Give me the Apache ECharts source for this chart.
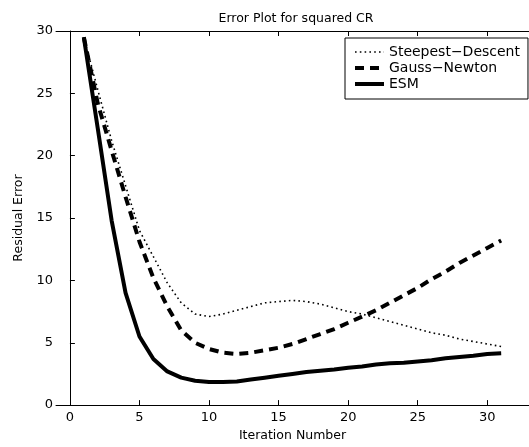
<!DOCTYPE html>
<html><head><meta charset="utf-8">
<script src="https://cdn.jsdelivr.net/npm/echarts@6/dist/echarts.min.js"></script>
<style>html,body{margin:0;padding:0;background:#fff}#c{width:529px;height:447px}</style>
</head><body><div id="c"></div>
<script>
const iterations = [1,2,3,4,5,6,7,8,9,10,11,12,13,14,15,16,17,18,19,20,21,22,23,24,25,26,27,28,29,30,31];
const steepestDescent = [29.5,25.3,21.2,17.6,14.0,11.9,9.8,8.2,7.3,7.1,7.3,7.6,7.9,8.2,8.3,8.4,8.3,8.1,7.8,7.5,7.3,7.0,6.7,6.4,6.1,5.8,5.6,5.3,5.1,4.9,4.7];
const gaussNewton = [29.5,24.2,20.4,16.7,13.1,10.2,7.9,6.0,5.0,4.5,4.2,4.1,4.2,4.4,4.6,4.9,5.3,5.7,6.1,6.6,7.1,7.6,8.2,8.8,9.4,10.1,10.7,11.4,12.0,12.6,13.2];
const esm = [29.5,22.2,14.8,9.0,5.5,3.7,2.7,2.2,1.95,1.85,1.85,1.9,2.05,2.2,2.35,2.5,2.65,2.75,2.85,3.0,3.1,3.25,3.35,3.4,3.5,3.6,3.75,3.85,3.95,4.1,4.15];
const xTicks = [0,5,10,15,20,25,30];
const seriesNames = ['Steepest\u2212Descent','Gauss\u2212Newton','ESM'];

const font = '"DejaVu Sans", sans-serif';
const pair = arr => iterations.map((x,i)=>[x,arr[i]]);
const styles = [
  {color:'#000', width:1.6, type:[1.6,3.2]},
  {color:'#000', width:4, type:[9,6]},
  {color:'#000', width:4, type:'solid'}
];
const chart = echarts.init(document.getElementById('c'), null, {renderer:'canvas'});
chart.setOption({
  animation:false,
  backgroundColor:'#fff',
  title:{text:'Error Plot for squared CR', left:291, top:7, textAlign:'center',
    textStyle:{fontFamily:font, fontSize:12.5, fontWeight:'normal', color:'#000'}},
  grid:{left:56, top:31, bottom:39, right:-7},
  legend:{orient:'vertical', left:345, top:38,
    padding:[7,8,8,8], itemGap:2, itemWidth:29, itemHeight:14,
    borderColor:'#000', borderWidth:1, backgroundColor:'#fff',
    itemStyle:{opacity:0},
    textStyle:{fontFamily:font, fontSize:14, color:'#000'},
    data:seriesNames.map((n,i)=>({name:n, lineStyle:Object.assign({}, styles[i], i===0?{width:1.6,type:[1.6,3.2]}:{})}))},
  xAxis:[{type:'value', min:-1, max:33, position:'bottom',
    name:'Iteration Number', nameLocation:'middle', nameGap:22,
    nameTextStyle:{fontFamily:font, fontSize:12.5, color:'#000'},
    axisLine:{show:true, onZero:false, lineStyle:{color:'#000', width:1}},
    axisTick:{show:true, inside:true, length:5, customValues:xTicks, lineStyle:{color:'#000'}},
    axisLabel:{show:true, customValues:xTicks, margin:6, fontFamily:font, fontSize:13, color:'#000'},
    splitLine:{show:false}},
   {type:'value', min:-1, max:33, position:'top',
    axisLine:{show:true, onZero:false, lineStyle:{color:'#000', width:1}},
    axisTick:{show:true, inside:true, length:5, customValues:xTicks, lineStyle:{color:'#000'}},
    axisLabel:{show:false}, splitLine:{show:false}}],
  yAxis:[{type:'value', min:0, max:30, interval:5, position:'left',
    name:'Residual Error', nameLocation:'middle', nameGap:22, nameRotate:90,
    nameTextStyle:{fontFamily:font, fontSize:12.5, color:'#000'},
    axisLine:{show:true, lineStyle:{color:'#000', width:1}},
    axisTick:{show:true, inside:true, length:5, lineStyle:{color:'#000'}},
    axisLabel:{margin:3, fontFamily:font, fontSize:13, color:'#000'},
    splitLine:{show:false}}],
  series:[
    {name:seriesNames[0], type:'line', data:pair(steepestDescent), symbol:'none', lineStyle:styles[0]},
    {name:seriesNames[1], type:'line', data:pair(gaussNewton), symbol:'none', lineStyle:styles[1]},
    {name:seriesNames[2], type:'line', data:pair(esm), symbol:'none', lineStyle:styles[2]}
  ]
});
</script></body></html>
